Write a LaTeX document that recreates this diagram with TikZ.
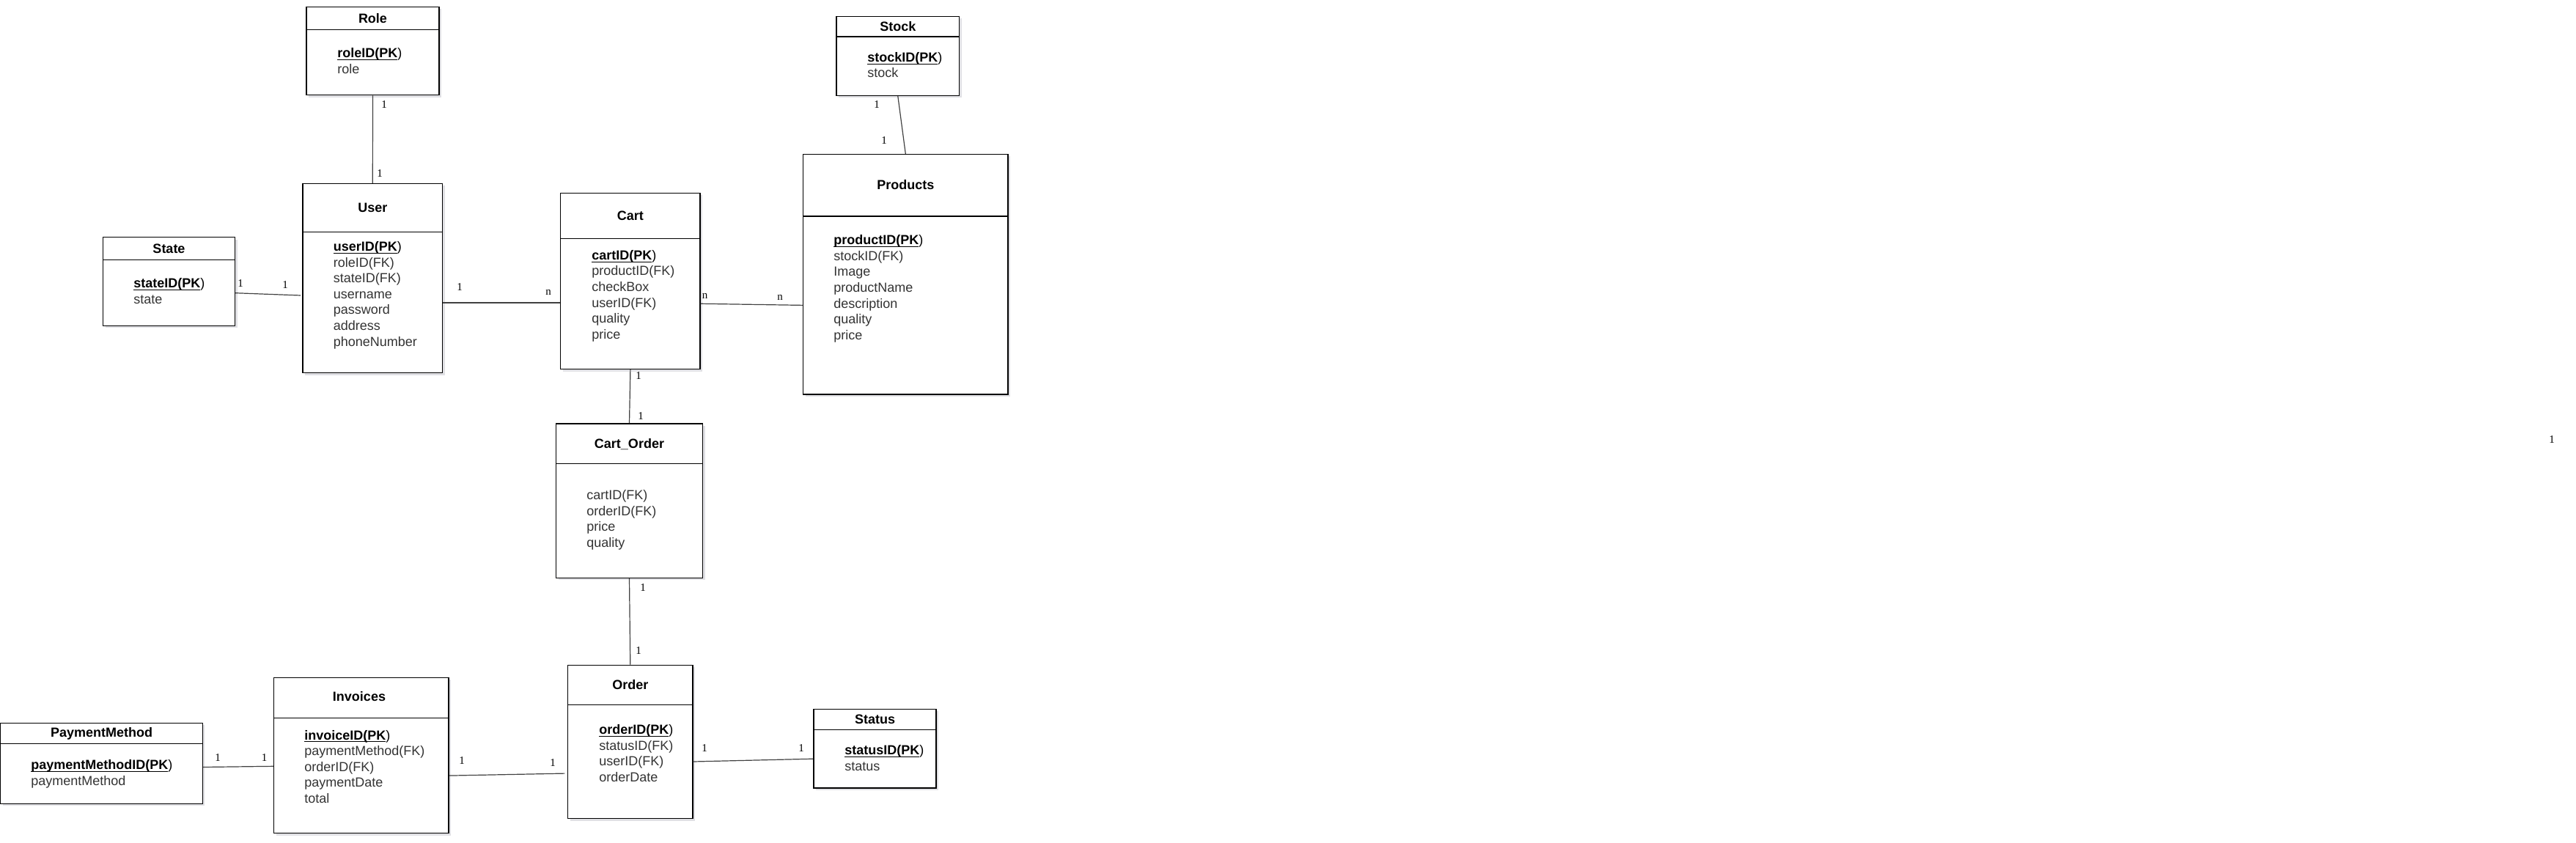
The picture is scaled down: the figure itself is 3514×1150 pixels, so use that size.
\documentclass[tikz,border=0pt]{standalone}
\usepackage{fontspec}
\setmainfont{Liberation Sans}
\newfontfamily\cardfont{Liberation Serif}
\usetikzlibrary{shadows}

\newcommand{\pkey}[1]{{\color{black}\underline{\smash{\textbf{#1(PK}}})}}
\newcommand{\attrlist}[1]{\begin{tabular}[t]{@{}l@{}}#1\end{tabular}}

\begin{document}
\begin{tikzpicture}[
  x=0.5pt, y=-0.5pt,
  entity/.style={rectangle, draw=black, line width=0.6pt, fill=white, inner sep=0pt,
    drop shadow={shadow xshift=1.5pt, shadow yshift=-1.5pt, opacity=0.35, fill=blue!15!black!35}},
  title/.style={anchor=base, inner sep=0pt, font=\fontsize{9}{10.8}\selectfont\bfseries},
  attr/.style={anchor=base west, inner sep=0pt, text=black!80, font=\fontsize{9}{10.8}\selectfont},
  card/.style={inner sep=0pt, font=\cardfont\fontsize{7.5}{9}\selectfont},
  rel/.style={draw=black!75, line width=0.6pt},
  sep/.style={line width=0.6pt}
]
\useasboundingbox (0,0) rectangle (3514,1150);

% Role
\node[entity, minimum width=90.5pt, minimum height=60.2pt] (role) at (508.5,69.5) {};
\draw[sep] (role.west |- 0,40.5) -- (role.east |- 0,40.5);
\node[title] (roleT) at (508.5,31.3) {Role};
\node[attr] (roleA) at (460,78.6) {\attrlist{\pkey{roleID}\\ role}};

% User
\node[entity, minimum width=95.3pt, minimum height=129pt] (user) at (508.3,379.5) {};
\draw[sep] (user.west |- 0,316.7) -- (user.east |- 0,316.7);
\node[title] (userT) at (508.3,290) {User};
\node[attr] (userA) at (454.5,342.6) {\attrlist{\pkey{userID}\\ roleID(FK)\\ stateID(FK)\\ username\\ password\\ address\\ phoneNumber}};

% State
\node[entity, minimum width=90pt, minimum height=60.2pt] (state) at (230.5,383.9) {};
\draw[sep] (state.west |- 0,354.6) -- (state.east |- 0,354.6);
\node[title] (stateT) at (230.5,345.4) {State};
\node[attr] (stateA) at (182,393) {\attrlist{\pkey{stateID}\\ state}};

% Stock
\node[entity, minimum width=83.75pt, minimum height=54pt] (stock) at (1224.8,76.5) {};
\draw[sep] (stock.west |- 0,50) -- (stock.east |- 0,50);
\node[title] (stockT) at (1224.8,42.1) {Stock};
\node[attr] (stockA) at (1183,84.3) {\attrlist{\pkey{stockID}\\ stock}};

% Products
\node[entity, minimum width=139.75pt, minimum height=163.75pt] (products) at (1235.3,374.2) {};
\draw[sep] (products.west |- 0,295) -- (products.east |- 0,295);
\node[title] (productsT) at (1235.3,258.2) {Products};
\node[attr] (productsA) at (1137,333.6) {\attrlist{\pkey{productID}\\ stockID(FK)\\ Image\\ productName\\ description\\ quality\\ price}};

% Cart
\node[entity, minimum width=95.15pt, minimum height=120.2pt] (cart) at (859.9,383.4) {};
\draw[sep] (cart.west |- 0,325.4) -- (cart.east |- 0,325.4);
\node[title] (cartT) at (859.9,300) {Cart};
\node[attr] (cartA) at (807,354.3) {\attrlist{\pkey{cartID}\\ productID(FK)\\ checkBox\\ userID(FK)\\ quality\\ price}};

% Cart_Order
\node[entity, minimum width=100pt, minimum height=105.2pt] (cartorder) at (858.5,683.2) {};
\draw[sep] (cartorder.west |- 0,632.2) -- (cartorder.east |- 0,632.2);
\node[title] (cartorderT) at (858.5,611.5) {Cart\_Order};
\node[attr] (cartorderA) at (800,681.6) {\attrlist{cartID(FK)\\ orderID(FK)\\ price\\ quality}};

% Order
\node[entity, minimum width=85.25pt, minimum height=104.75pt] (order) at (859.8,1012) {};
\draw[sep] (order.west |- 0,961.4) -- (order.east |- 0,961.4);
\node[title] (orderT) at (859.8,940) {Order};
\node[attr] (orderA) at (817,1001.4) {\attrlist{\pkey{orderID}\\ statusID(FK)\\ userID(FK)\\ orderDate}};

% Status
\node[entity, minimum width=83.5pt, minimum height=53.8pt] (status) at (1193.5,1021.2) {};
\draw[sep] (status.west |- 0,995.3) -- (status.east |- 0,995.3);
\node[title] (statusT) at (1193.5,987) {Status};
\node[attr] (statusA) at (1152,1029.6) {\attrlist{\pkey{statusID}\\ status}};

% PaymentMethod
\node[entity, minimum width=137.8pt, minimum height=54.9pt] (paymethod) at (138.6,1041.2) {};
\draw[sep] (paymethod.west |- 0,1014.5) -- (paymethod.east |- 0,1014.5);
\node[title] (paymethodT) at (138.6,1005.8) {PaymentMethod};
\node[attr] (paymethodA) at (42,1049.6) {\attrlist{\pkey{paymentMethodID}\\ paymentMethod}};

% Invoices
\node[entity, minimum width=119.15pt, minimum height=106.25pt] (invoices) at (492.9,1030.5) {};
\draw[sep] (invoices.west |- 0,979.1) -- (invoices.east |- 0,979.1);
\node[title] (invoicesT) at (490,956.9) {Invoices};
\node[attr] (invoicesA) at (415,1009) {\attrlist{\pkey{invoiceID}\\ paymentMethod(FK)\\ orderID(FK)\\ paymentDate\\ total}};

% Relations
\draw[rel] (role.south) -- (user.north);
\draw[rel] ([yshift=-7.9pt]state.east) -- ([xshift=-1.2pt, yshift=-11.75pt]user.west);
\draw[rel] ([yshift=-16.75pt]user.east) -- ([yshift=-14.8pt]cart.west);
\draw[rel] ([yshift=-15.45pt]cart.east) -- ([yshift=-21.1pt]products.west);
\draw[rel] (stock.south) -- (products.north);
\draw[rel] (cart.south) -- (cartorder.north);
\draw[rel] (cartorder.south) -- (order.north);
\draw[rel] ([yshift=-13.5pt]order.east) -- ([yshift=-7pt]status.west);
\draw[rel] ([yshift=-13.8pt]invoices.east) -- ([xshift=-1.75pt, yshift=-21.55pt]order.west);
\draw[rel] ([yshift=-2.65pt]paymethod.east) -- ([yshift=-7.4pt]invoices.west);

% Cardinalities
\node[card] (cRoleA) at (524,142.6) {1};
\node[card] (cRoleB) at (518,236.8) {1};
\node[card] (cStateA) at (328,387) {1};
\node[card] (cStateB) at (389,388.7) {1};
\node[card] (cUserA) at (627,392) {1};
\node[card] (cUserB) at (748,399.3) {n};
\node[card] (cCartA) at (961.6,404.3) {n};
\node[card] (cCartB) at (1064,406.4) {n};
\node[card] (cStockA) at (1196,142.9) {1};
\node[card] (cStockB) at (1206,192) {1};
\node[card] (cCoA) at (871,512.9) {1};
\node[card] (cCoB) at (874,567.5) {1};
\node[card] (cOrdA) at (877,801.2) {1};
\node[card] (cOrdB) at (871,887.3) {1};
\node[card] (cStatA) at (961,1020.9) {1};
\node[card] (cStatB) at (1093,1020.9) {1};
\node[card] (cInvA) at (630,1037.8) {1};
\node[card] (cInvB) at (754,1040.8) {1};
\node[card] (cPayA) at (297,1033.3) {1};
\node[card] (cPayB) at (360.7,1033.3) {1};
\node[card] (cStray) at (3481,600) {1};

\end{tikzpicture}
\end{document}
